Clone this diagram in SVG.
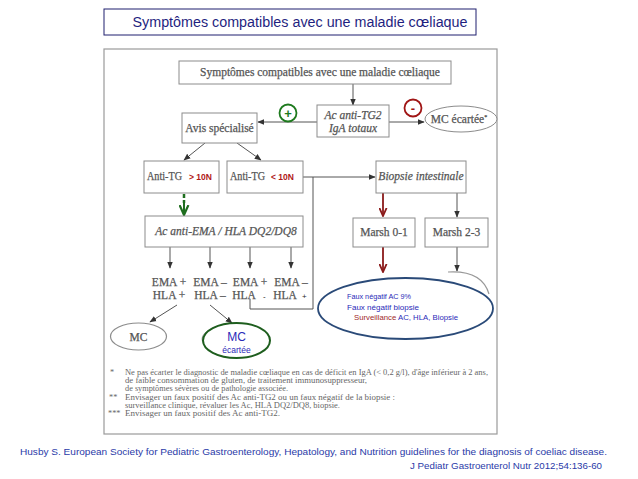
<svg xmlns="http://www.w3.org/2000/svg" width="638" height="479" viewBox="0 0 638 479">
<style>
.box{fill:#fff;stroke:#8c8c8c;stroke-width:1}
.st{font-family:"Liberation Serif",serif;fill:#555;font-size:11.5px;stroke:#555;stroke-width:0.25}
.it{font-style:italic}
.ln{stroke:#555;stroke-width:1;fill:none}
.red{font-family:"Liberation Sans",sans-serif;font-weight:bold;fill:#b01818;font-size:8.5px}
.blue{font-family:"Liberation Sans",sans-serif;fill:#2a2ab8;font-size:8px}
.fn{font-family:"Liberation Serif",serif;fill:#666;font-size:8.3px}
.cit{font-family:"Liberation Sans",sans-serif;fill:#2a3aa8;font-size:9px}
</style>
<defs>
<marker id="ah" viewBox="0 0 10 10" refX="9" refY="5" markerWidth="7" markerHeight="7" markerUnits="userSpaceOnUse" orient="auto"><path d="M0,1 L10,5 L0,9 z" fill="#333"/></marker>
<marker id="rv" viewBox="0 0 10 10" refX="9" refY="5" markerWidth="9" markerHeight="9" markerUnits="userSpaceOnUse" orient="auto"><path d="M0,1 L9,5 L0,9" fill="none" stroke="#8b1a1a" stroke-width="2"/></marker>
<marker id="gv" viewBox="0 0 10 10" refX="9" refY="5" markerWidth="11" markerHeight="11" markerUnits="userSpaceOnUse" orient="auto"><path d="M0,1 L9,5 L0,9" fill="none" stroke="#1e6e1e" stroke-width="2"/></marker>
</defs>
<rect x="0" y="0" width="638" height="479" fill="#fff"/>
<g id="title">
<rect x="104" y="9" width="372" height="26" fill="#fff" stroke="#1f1f6e" stroke-width="1"/>
<text x="300" y="27" text-anchor="middle" font-family="Liberation Sans, sans-serif" font-size="14" fill="#1f1f80" textLength="335" lengthAdjust="spacingAndGlyphs">Symptômes compatibles avec une maladie cœliaque</text>
</g>
<rect id="frame" x="104" y="49" width="393" height="385" fill="#fff" stroke="#9a9a9a" stroke-width="1.2"/>
<g id="connectors">
<path class="ln" d="M353,84 V105" marker-end="url(#ah)"/>
<path class="ln" d="M317,122 H258" marker-end="url(#ah)"/>
<path class="ln" d="M389,122 H424" marker-end="url(#ah)"/>
<path class="ln" d="M205,143 L184,160" marker-end="url(#ah)"/>
<path class="ln" d="M237,143 L261,160" marker-end="url(#ah)"/>
<path class="ln" d="M303,177 H375" marker-end="url(#ah)"/>
<path class="ln" d="M313,177 V309 H250 V299"/>
<path d="M184,194 V203" stroke="#1e6e1e" stroke-width="2.5" fill="none" stroke-dasharray="4,2"/>
<path d="M184,203 V215" stroke="#1e6e1e" stroke-width="2" fill="none" marker-end="url(#gv)"/>
<path d="M383,193 V216" stroke="#8b1a1a" stroke-width="1.8" fill="none" marker-end="url(#rv)"/>
<path class="ln" d="M457,193 V217" marker-end="url(#ah)"/>
<path class="ln" d="M170,247 V268" marker-end="url(#ah)"/>
<path class="ln" d="M210,247 V268" marker-end="url(#ah)"/>
<path class="ln" d="M250,247 V268" marker-end="url(#ah)"/>
<path class="ln" d="M291,247 V268" marker-end="url(#ah)"/>
<path d="M383,247 V272" stroke="#8b1a1a" stroke-width="1.8" fill="none" marker-end="url(#rv)"/>
<path class="ln" d="M457,247 V271" marker-end="url(#ah)"/>
<path d="M448,272 Q482,270 489,294" stroke="#999" stroke-width="1.2" fill="none"/>
<path class="ln" d="M177,305 L150,322" marker-end="url(#ah)"/>
<path class="ln" d="M210,305 L232,323" marker-end="url(#ah)"/>
</g>
<g id="symptomes">
<rect class="box" x="179" y="61" width="272" height="23"/>
<text class="st" x="320" y="76" text-anchor="middle">Symptômes compatibles avec une maladie cœliaque</text>
</g>
<g id="ac-tg2">
<rect class="box" x="317" y="105" width="72" height="32"/>
<text class="st it" x="353" y="119" text-anchor="middle">Ac anti-TG2</text>
<text class="st it" x="353" y="132" text-anchor="middle">IgA totaux</text>
</g>
<g id="avis">
<rect class="box" x="182" y="113" width="75" height="30"/>
<text class="st" x="219.5" y="132" text-anchor="middle">Avis spécialisé</text>
</g>
<g id="plus">
<circle cx="288" cy="113" r="8.5" fill="#fff" stroke="#1e7a1e" stroke-width="1.8"/>
<text x="288" y="118" text-anchor="middle" font-family="Liberation Sans, sans-serif" font-weight="bold" font-size="13" fill="#1e7a1e">+</text>
</g>
<g id="minus">
<circle cx="413" cy="108" r="8.5" fill="#fff" stroke="#a01515" stroke-width="1.8"/>
<text x="413" y="113" text-anchor="middle" font-family="Liberation Sans, sans-serif" font-weight="bold" font-size="13" fill="#a01515">-</text>
</g>
<g id="mc-ecartee-top">
<ellipse cx="461" cy="119" rx="36" ry="13" fill="#fff" stroke="#8c8c8c" stroke-width="1"/>
<text class="st" x="459" y="123" text-anchor="middle" font-size="10.5">MC écartée<tspan font-size="6" dy="-4">*</tspan></text>
</g>
<g id="anti-tg-high">
<rect class="box" x="144" y="161" width="75" height="32"/>
<text class="st" x="147" y="180" textLength="35" lengthAdjust="spacingAndGlyphs">Anti-TG</text>
<text class="red" x="189" y="180">&gt; 10N</text>
</g>
<g id="anti-tg-low">
<rect class="box" x="227" y="161" width="76" height="32"/>
<text class="st" x="230" y="180" textLength="35" lengthAdjust="spacingAndGlyphs">Anti-TG</text>
<text class="red" x="271" y="180">&lt; 10N</text>
</g>
<g id="biopsie">
<rect class="box" x="376" y="161" width="90" height="32"/>
<text class="st it" x="421" y="180" text-anchor="middle">Biopsie intestinale</text>
</g>
<g id="ema-hla">
<rect class="box" x="145" y="216" width="158" height="31"/>
<text class="st it" x="226" y="235" text-anchor="middle">Ac anti-EMA / HLA DQ2/DQ8</text>
</g>
<g id="marsh01">
<rect class="box" x="353" y="218" width="62" height="29"/>
<text class="st" x="384" y="236" text-anchor="middle">Marsh 0-1</text>
</g>
<g id="marsh23">
<rect class="box" x="425" y="218" width="63" height="29"/>
<text class="st" x="456.5" y="236" text-anchor="middle">Marsh 2-3</text>
</g>
<g id="results">
<text class="st" x="169" y="286" text-anchor="middle">EMA +</text>
<text class="st" x="169" y="299" text-anchor="middle">HLA +</text>
<text class="st" x="210" y="286" text-anchor="middle">EMA –</text>
<text class="st" x="210" y="299" text-anchor="middle">HLA –</text>
<text class="st" x="250" y="286" text-anchor="middle">EMA +</text>
<text class="st" x="244" y="299" text-anchor="middle">HLA</text>
<text x="263" y="299" font-family="Liberation Sans, sans-serif" font-size="8" fill="#222">-</text>
<text class="st" x="291" y="286" text-anchor="middle">EMA –</text>
<text class="st" x="285" y="299" text-anchor="middle">HLA</text>
<text x="302" y="299" font-family="Liberation Sans, sans-serif" font-size="8" fill="#222">+</text>
</g>
<g id="faux-negatif">
<ellipse cx="405.5" cy="308.5" rx="87.5" ry="30.5" fill="#fff" stroke="#2a4a78" stroke-width="1.8"/>
<text class="blue" x="347" y="299" textLength="64" lengthAdjust="spacingAndGlyphs">Faux négatif  AC 9%</text>
<text class="blue" x="347" y="309.5" textLength="72" lengthAdjust="spacingAndGlyphs">Faux négatif biopsie</text>
<text class="blue" x="354" y="320" textLength="104" lengthAdjust="spacingAndGlyphs"><tspan fill="#a02a2a">Surveillance</tspan> AC, HLA, Biopsie</text>
</g>
<g id="mc">
<ellipse cx="138.5" cy="336.5" rx="28" ry="13.5" fill="#fff" stroke="#8c8c8c" stroke-width="1.2"/>
<text class="st" x="138.5" y="341" text-anchor="middle" font-size="12.5">MC</text>
</g>
<g id="mc-ecartee">
<ellipse cx="232" cy="339" rx="30" ry="14" fill="#eee" stroke="#aaa" stroke-width="1"/>
<ellipse cx="236.5" cy="340.5" rx="33.5" ry="17.5" fill="#fff" stroke="#1e5e1e" stroke-width="2"/>
<text x="236.5" y="341" text-anchor="middle" font-family="Liberation Sans, sans-serif" font-size="12" fill="#2a2ab8">MC</text>
<text x="236.5" y="353" text-anchor="middle" font-family="Liberation Sans, sans-serif" font-size="8.5" fill="#2a2ab8">écartée</text>
</g>
<g id="footnotes">
<text class="fn" x="110" y="375">*</text>
<text class="fn" x="125" y="375" textLength="363" lengthAdjust="spacingAndGlyphs">Ne pas écarter le diagnostic de maladie cœliaque en cas de déficit en IgA (&lt; 0,2 g/l),  d'âge inférieur à 2 ans,</text>
<text class="fn" x="125" y="383" textLength="242" lengthAdjust="spacingAndGlyphs">de faible consommation de gluten, de traitement immunosuppresseur,</text>
<text class="fn" x="125" y="391" textLength="163" lengthAdjust="spacingAndGlyphs">de symptômes sévères ou de pathologie associée.</text>
<text class="fn" x="109" y="400">**</text>
<text class="fn" x="125" y="400" textLength="270" lengthAdjust="spacingAndGlyphs">Envisager un faux positif des Ac anti-TG2 ou un faux négatif de la biopsie :</text>
<text class="fn" x="125" y="408" textLength="215" lengthAdjust="spacingAndGlyphs">surveillance clinique, révaluer les Ac, HLA DQ2/DQ8, biopsie.</text>
<text class="fn" x="108" y="416">***</text>
<text class="fn" x="125" y="416" textLength="155" lengthAdjust="spacingAndGlyphs">Envisager un faux positif des Ac anti-TG2.</text>
</g>
<g id="citation">
<text class="cit" x="20" y="455" textLength="587" lengthAdjust="spacingAndGlyphs">Husby S. European Society for Pediatric Gastroenterology, Hepatology, and Nutrition guidelines for the diagnosis of coeliac disease.</text>
<text class="cit" x="602" y="469" text-anchor="end" textLength="192" lengthAdjust="spacingAndGlyphs">J Pediatr Gastroenterol Nutr 2012;54:136-60</text>
</g>
</svg>
